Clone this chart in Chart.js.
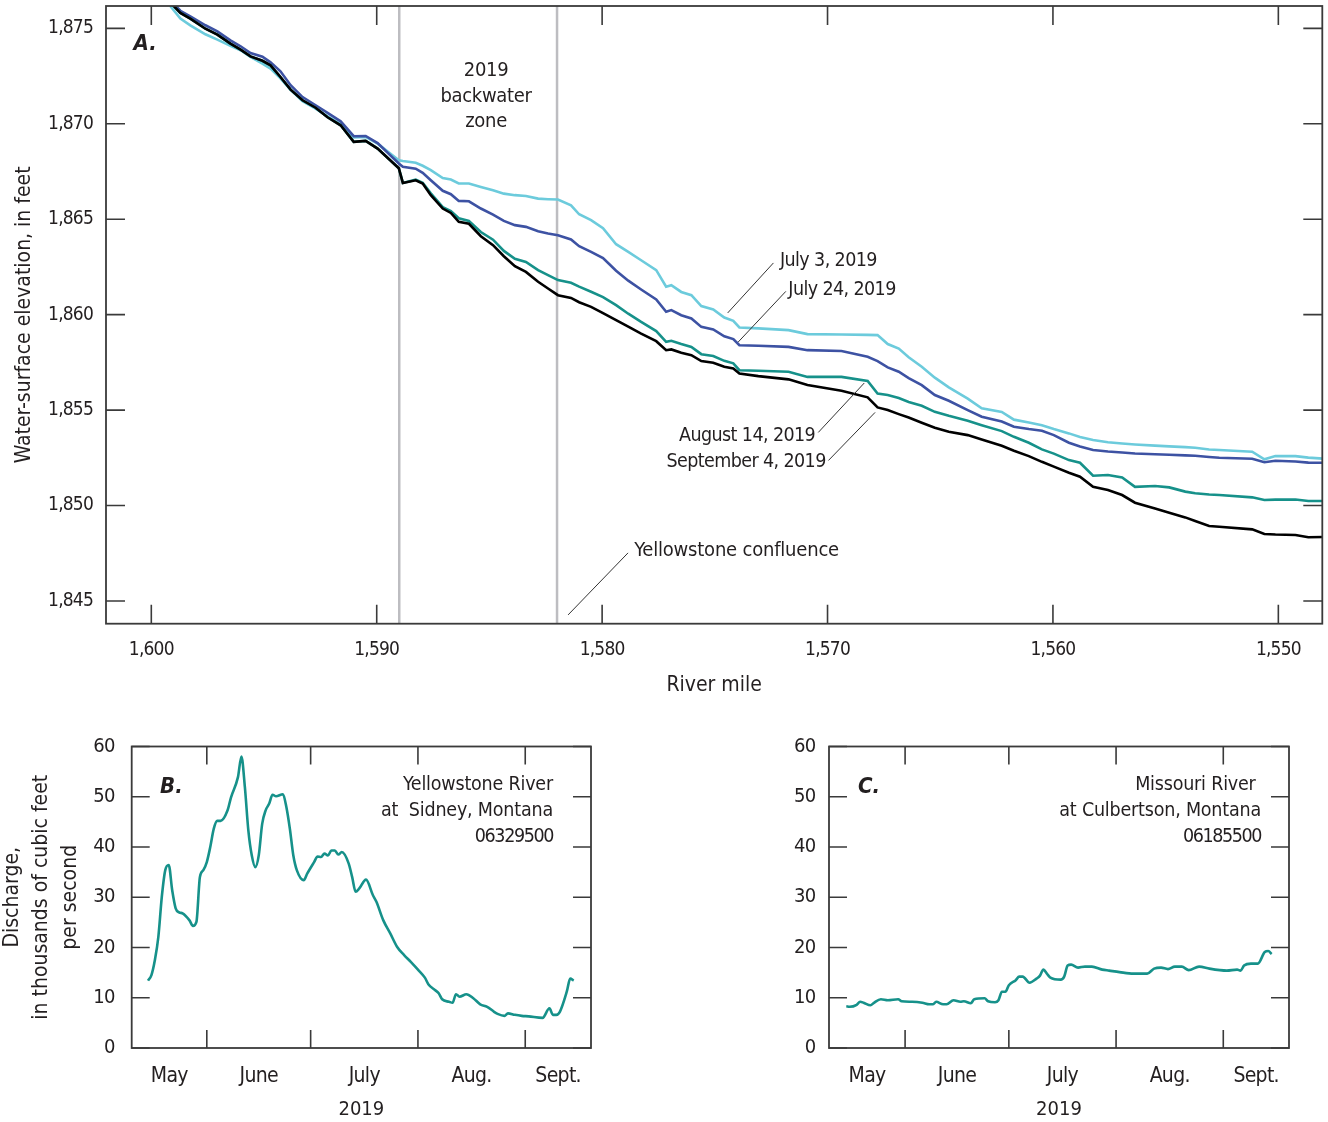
<!DOCTYPE html>
<html lang="en">
<head>
<meta charset="UTF-8">
<title>Missouri River water-surface profiles and discharge, 2019</title>
<script src="https://cdn.jsdelivr.net/npm/chart.js@4"></script>
<style>
  body { margin: 0; background: #fff; }
  #wrap { position: relative; width: 1328px; height: 1122px; }
  canvas { position: absolute; }
  #panelA { left: 0; top: 0; }
  #panelB { left: 0; top: 720px; }
  #panelC { left: 664px; top: 720px; }
</style>
</head>
<body>
<div id="wrap">
  <canvas id="panelA" width="1328" height="705"></canvas>
  <canvas id="panelB" width="664" height="402"></canvas>
  <canvas id="panelC" width="664" height="402"></canvas>
</div>

<script>
// ---- Panel A: water-surface profiles ----
const riverMile = [1599.16, 1598.71, 1598.27, 1597.6, 1597.07, 1596.49, 1596.04, 1595.6, 1595.07, 1594.71,
  1594.27, 1593.82, 1593.29, 1592.71, 1592.18, 1591.6, 1591.02, 1590.49, 1589.96, 1589.02,
  1588.84, 1588.27, 1587.96, 1587.6, 1587.07, 1586.71, 1586.36, 1585.91, 1585.38, 1584.84,
  1584.36, 1583.87, 1583.38, 1582.84, 1582.4, 1581.96, 1581.38, 1581.02, 1580.49, 1579.96,
  1579.38, 1578.84, 1578.27, 1577.6, 1577.16, 1576.93, 1576.49, 1576.04, 1575.6, 1575.07,
  1574.58, 1574.18, 1573.91, 1573.07, 1571.73, 1570.89, 1569.38, 1568.22, 1567.78, 1567.33,
  1566.84, 1566.4, 1565.82, 1565.24, 1564.62, 1563.78, 1563.16, 1562.27, 1561.73, 1561.07,
  1560.49, 1559.96, 1559.29, 1558.8, 1558.22, 1557.56, 1556.93, 1556.36, 1555.47, 1554.84,
  1554.13, 1553.69, 1553.07, 1552.62, 1551.16, 1550.62, 1550.13, 1549.24, 1548.67, 1547.91];

const elevJul3 = [1876.17, 1875.51, 1875.16, 1874.69, 1874.41, 1874.08, 1873.85, 1873.50, 1873.15, 1872.89,
  1872.38, 1871.78, 1871.18, 1870.79, 1870.39, 1869.97, 1869.28, 1869.31, 1868.96, 1868.09,
  1868.05, 1867.96, 1867.80, 1867.57, 1867.16, 1867.08, 1866.87, 1866.87, 1866.69, 1866.52,
  1866.34, 1866.26, 1866.22, 1866.08, 1866.05, 1866.03, 1865.73, 1865.26, 1864.95, 1864.53,
  1863.69, 1863.29, 1862.85, 1862.33, 1861.46, 1861.54, 1861.19, 1861.02, 1860.45, 1860.27,
  1859.85, 1859.68, 1859.33, 1859.28, 1859.19, 1858.98, 1858.96, 1858.94, 1858.93, 1858.46,
  1858.22, 1857.77, 1857.27, 1856.70, 1856.19, 1855.60, 1855.09, 1854.90, 1854.50, 1854.35,
  1854.21, 1854.01, 1853.78, 1853.59, 1853.43, 1853.32, 1853.25, 1853.20, 1853.14, 1853.10,
  1853.06, 1853.03, 1852.94, 1852.91, 1852.82, 1852.42, 1852.59, 1852.59, 1852.51, 1852.45];

const elevJul24 = [1876.47, 1875.92, 1875.63, 1875.16, 1874.84, 1874.37, 1874.06, 1873.71, 1873.51, 1873.22,
  1872.75, 1872.02, 1871.40, 1870.97, 1870.57, 1870.13, 1869.35, 1869.36, 1868.99, 1867.92,
  1867.75, 1867.65, 1867.43, 1867.04, 1866.49, 1866.31, 1865.96, 1865.94, 1865.56, 1865.24,
  1864.91, 1864.69, 1864.60, 1864.37, 1864.25, 1864.16, 1863.94, 1863.59, 1863.29, 1862.96,
  1862.30, 1861.78, 1861.32, 1860.80, 1860.15, 1860.24, 1859.97, 1859.80, 1859.36, 1859.23,
  1858.87, 1858.72, 1858.40, 1858.37, 1858.31, 1858.14, 1858.10, 1857.79, 1857.57, 1857.24,
  1857.01, 1856.68, 1856.31, 1855.79, 1855.49, 1855.00, 1854.65, 1854.40, 1854.13, 1854.01,
  1853.92, 1853.69, 1853.29, 1853.09, 1852.91, 1852.83, 1852.78, 1852.73, 1852.69, 1852.66,
  1852.63, 1852.61, 1852.54, 1852.50, 1852.45, 1852.27, 1852.35, 1852.31, 1852.25, 1852.24];

const elevAug14 = [1876.36, 1875.81, 1875.51, 1874.98, 1874.67, 1874.20, 1873.88, 1873.53, 1873.30, 1873.06,
  1872.45, 1871.79, 1871.23, 1870.84, 1870.34, 1869.92, 1869.05, 1869.10, 1868.70, 1867.67,
  1866.90, 1867.07, 1866.91, 1866.36, 1865.63, 1865.42, 1865.05, 1864.91, 1864.33, 1863.93,
  1863.34, 1862.93, 1862.76, 1862.33, 1862.07, 1861.81, 1861.67, 1861.47, 1861.20, 1860.92,
  1860.50, 1860.05, 1859.62, 1859.14, 1858.58, 1858.63, 1858.46, 1858.31, 1857.93, 1857.83,
  1857.58, 1857.45, 1857.09, 1857.06, 1857.01, 1856.74, 1856.74, 1856.53, 1855.87, 1855.79,
  1855.63, 1855.43, 1855.23, 1854.91, 1854.70, 1854.44, 1854.21, 1853.90, 1853.60, 1853.29,
  1852.94, 1852.72, 1852.38, 1852.24, 1851.56, 1851.60, 1851.47, 1850.98, 1851.02, 1850.95,
  1850.73, 1850.64, 1850.58, 1850.55, 1850.43, 1850.29, 1850.31, 1850.32, 1850.24, 1850.24];

const elevSep4 = [1876.36, 1875.81, 1875.51, 1874.98, 1874.67, 1874.20, 1873.88, 1873.53, 1873.30, 1873.06,
  1872.45, 1871.79, 1871.23, 1870.84, 1870.34, 1869.92, 1869.05, 1869.10, 1868.70, 1867.67,
  1866.90, 1867.04, 1866.87, 1866.26, 1865.56, 1865.33, 1864.86, 1864.76, 1864.11, 1863.64,
  1863.06, 1862.54, 1862.24, 1861.72, 1861.37, 1861.02, 1860.88, 1860.65, 1860.41, 1860.08,
  1859.71, 1859.37, 1859.01, 1858.61, 1858.14, 1858.18, 1858.00, 1857.88, 1857.57, 1857.48,
  1857.27, 1857.18, 1856.92, 1856.78, 1856.61, 1856.31, 1856.01, 1855.67, 1855.14, 1855.00,
  1854.79, 1854.61, 1854.34, 1854.08, 1853.87, 1853.69, 1853.46, 1853.13, 1852.87, 1852.59,
  1852.29, 1852.04, 1851.72, 1851.51, 1850.98, 1850.81, 1850.55, 1850.15, 1849.85, 1849.62,
  1849.38, 1849.19, 1848.93, 1848.89, 1848.75, 1848.51, 1848.48, 1848.46, 1848.34, 1848.35];

const mileTicks = [1600, 1590, 1580, 1570, 1560, 1550];
const elevTicks = [1845, 1850, 1855, 1860, 1865, 1870, 1875];
const backwaterMiles = [1589.0, 1582.0];

// ---- Panels B and C: daily discharge, thousands of cubic feet per second ----
const sidneyDates = ['2019-05-15', '2019-05-16', '2019-05-17', '2019-05-18', '2019-05-19', '2019-05-20', '2019-05-21',
  '2019-05-22', '2019-05-23', '2019-05-24', '2019-05-25', '2019-05-27', '2019-05-28', '2019-05-29', '2019-05-30',
  '2019-05-31', '2019-06-01', '2019-06-02', '2019-06-03', '2019-06-04', '2019-06-05', '2019-06-07', '2019-06-08',
  '2019-06-10', '2019-06-11', '2019-06-12', '2019-06-13', '2019-06-14', '2019-06-15', '2019-06-16', '2019-06-17',
  '2019-06-18', '2019-06-19', '2019-06-20', '2019-06-21', '2019-06-23', '2019-06-24', '2019-06-25', '2019-06-26',
  '2019-06-27', '2019-06-29', '2019-06-30', '2019-07-02', '2019-07-03', '2019-07-04', '2019-07-05', '2019-07-06',
  '2019-07-07', '2019-07-08', '2019-07-09', '2019-07-10', '2019-07-12', '2019-07-13', '2019-07-14', '2019-07-15',
  '2019-07-17', '2019-07-19', '2019-07-20', '2019-07-22', '2019-07-24', '2019-07-26', '2019-07-28', '2019-07-30',
  '2019-08-01', '2019-08-03', '2019-08-04', '2019-08-06', '2019-08-07', '2019-08-08', '2019-08-10', '2019-08-11',
  '2019-08-12', '2019-08-13', '2019-08-15', '2019-08-17', '2019-08-19', '2019-08-21', '2019-08-23', '2019-08-24',
  '2019-08-26', '2019-08-27', '2019-08-29', '2019-08-31', '2019-09-02', '2019-09-06', '2019-09-08', '2019-09-09',
  '2019-09-10', '2019-09-11', '2019-09-13', '2019-09-14', '2019-09-15'];
const sidneyFlow = [13.4, 14.5, 17.5, 22.1, 30.1, 35.4, 36.4,
  31.4, 27.8, 27.0, 26.8, 25.4, 24.3, 25.1, 34.0,
  35.4, 37.0, 40.0, 43.6, 45.2, 45.2, 47.3, 49.9,
  53.9, 58.0, 51.9, 43.3, 38.3, 36.0, 38.3, 44.6,
  47.3, 48.6, 50.4, 50.1, 50.5, 47.9, 43.6, 38.3,
  35.4, 33.4, 34.7, 37.0, 38.1, 38.0, 38.7, 38.3,
  39.3, 39.3, 38.5, 39.0, 36.7, 34.0, 31.1, 31.7,
  33.5, 30.4, 29.1, 25.4, 22.8, 20.1, 18.5, 17.1,
  15.6, 14.0, 12.7, 11.5, 10.9, 9.7, 9.2, 9.0,
  10.7, 10.2, 10.7, 9.9, 8.7, 8.2, 7.2, 6.8,
  6.4, 6.9, 6.6, 6.4, 6.3, 6.0, 7.9, 6.6,
  6.6, 7.2, 11.2, 13.8, 13.4];

const culbertsonDates = ['2019-05-15', '2019-05-16', '2019-05-18', '2019-05-19', '2019-05-20', '2019-05-22', '2019-05-23',
  '2019-05-25', '2019-05-27', '2019-05-30', '2019-05-31', '2019-06-03', '2019-06-06', '2019-06-08', '2019-06-09',
  '2019-06-10', '2019-06-12', '2019-06-13', '2019-06-15', '2019-06-17', '2019-06-18', '2019-06-20', '2019-06-21',
  '2019-06-24', '2019-06-25', '2019-06-27', '2019-06-28', '2019-06-29', '2019-06-30', '2019-07-01', '2019-07-03',
  '2019-07-04', '2019-07-05', '2019-07-07', '2019-07-09', '2019-07-10', '2019-07-11', '2019-07-12', '2019-07-13',
  '2019-07-16', '2019-07-17', '2019-07-18', '2019-07-19', '2019-07-21', '2019-07-23', '2019-07-25', '2019-07-28',
  '2019-07-30', '2019-08-02', '2019-08-06', '2019-08-10', '2019-08-12', '2019-08-14', '2019-08-16', '2019-08-18',
  '2019-08-20', '2019-08-22', '2019-08-25', '2019-08-28', '2019-08-31', '2019-09-02', '2019-09-05', '2019-09-06',
  '2019-09-07', '2019-09-09', '2019-09-11', '2019-09-13', '2019-09-14', '2019-09-15'];
const culbertsonFlow = [8.3, 8.2, 8.6, 9.2, 9.0, 8.5, 9.0,
  9.7, 9.5, 9.7, 9.3, 9.2, 9.0, 8.7, 8.7,
  9.2, 8.7, 8.7, 9.5, 9.2, 9.3, 8.9, 9.7,
  9.9, 9.3, 9.1, 9.5, 11.2, 11.2, 12.5, 13.5,
  14.2, 14.2, 13.0, 13.8, 14.4, 15.6, 14.8, 14.0,
  13.6, 14.2, 16.4, 16.6, 16.0, 16.2, 16.2, 15.6,
  15.4, 15.1, 14.8, 14.8, 15.8, 16.0, 15.7, 16.2,
  16.2, 15.5, 16.2, 15.8, 15.5, 15.4, 15.6, 15.4,
  16.4, 16.8, 16.8, 19.1, 19.3, 18.7];

const monthStarts = ['2019-06-01', '2019-07-01', '2019-08-01', '2019-09-01'];
const monthLabels = ['May', 'June', 'July', 'Aug.', 'Sept.'];
const flowTicks = [0, 10, 20, 30, 40, 50, 60];

// ---- helpers ----
const FONT = "'Liberation Sans Narrow', 'Arial Narrow', 'DejaVu Sans Condensed', sans-serif";
const INK = '#231f20';
Chart.defaults.font.family = FONT;
Chart.defaults.color = INK;

function doy(s) {
  const [y, m, d] = s.split('-').map(Number);
  return (Date.UTC(y, m - 1, d) - Date.UTC(y, 0, 1)) / 864e5 + 1;
}

// frame round the plot area, with ticks pointing inward on all four sides
const framePlugin = {
  id: 'frame',
  afterDatasetsDraw(chart, args, o) {
    const { ctx, chartArea: a, scales: { x, y } } = chart;
    const len = o.tickLength;
    ctx.save();
    ctx.strokeStyle = '#3a3a3a';
    ctx.lineWidth = 1.6;
    ctx.beginPath();
    o.xTicks.forEach(v => {
      const px = x.getPixelForValue(v);
      ctx.moveTo(px, a.bottom); ctx.lineTo(px, a.bottom - len);
      ctx.moveTo(px, a.top); ctx.lineTo(px, a.top + len);
    });
    o.yTicks.forEach(v => {
      const py = y.getPixelForValue(v);
      ctx.moveTo(a.left, py); ctx.lineTo(a.left + len, py);
      ctx.moveTo(a.right, py); ctx.lineTo(a.right - len, py);
    });
    ctx.stroke();
    ctx.lineWidth = 1.8;
    ctx.strokeRect(a.left, a.top, a.right - a.left, a.bottom - a.top);
    ctx.restore();
  }
};

// reference lines, leader lines and text placed in data units
const notesPlugin = {
  id: 'notes',
  beforeDatasetsDraw(chart, args, o) {
    const { ctx, chartArea: a, scales: { x } } = chart;
    ctx.save();
    ctx.strokeStyle = '#bdbdc1';
    ctx.lineWidth = 2.5;
    (o.vlines || []).forEach(v => {
      const px = x.getPixelForValue(v);
      ctx.beginPath(); ctx.moveTo(px, a.top); ctx.lineTo(px, a.bottom); ctx.stroke();
    });
    ctx.restore();
  },
  afterDatasetsDraw(chart, args, o) {
    const { ctx, scales: { x, y } } = chart;
    ctx.save();
    ctx.strokeStyle = '#333';
    ctx.lineWidth = 1;
    (o.leaders || []).forEach(([x1, y1, x2, y2]) => {
      ctx.beginPath();
      ctx.moveTo(x.getPixelForValue(x1), y.getPixelForValue(y1));
      ctx.lineTo(x.getPixelForValue(x2), y.getPixelForValue(y2));
      ctx.stroke();
    });
    ctx.fillStyle = INK;
    ctx.textBaseline = 'middle';
    (o.texts || []).forEach(t => {
      ctx.font = t.font || ('20px ' + FONT);
      ctx.letterSpacing = t.spacing || '0px';
      ctx.textAlign = t.align || 'left';
      const px = x.getPixelForValue(t.x);
      const py = y.getPixelForValue(t.y);
      t.lines.forEach((s, i) => ctx.fillText(s, px, py + i * (t.lineHeight || 25.5)));
    });
    ctx.restore();
  }
};

// tick labels sit on layer z=1 (drawn after the datasets); tighten their
// letter spacing so the digits look closer to a condensed face
const condensePlugin = {
  id: 'condense',
  afterDatasetsDraw(chart, args, o) { chart.ctx.letterSpacing = o.spacing || '0px'; },
  afterDraw(chart) { chart.ctx.letterSpacing = '0px'; }
};

function profile(label, elev, color) {
  return {
    label,
    data: riverMile.map((m, i) => ({ x: m, y: elev[i] })),
    borderColor: color,
    borderWidth: 2.6,
    pointRadius: 0,
    tension: 0,
    fill: false
  };
}

// ---- Panel A ----
new Chart(document.getElementById('panelA'), {
  type: 'line',
  data: {
    datasets: [
      profile('September 4, 2019', elevSep4, '#000000'),
      profile('August 14, 2019', elevAug14, '#16918a'),
      profile('July 24, 2019', elevJul24, '#3d52a3'),
      profile('July 3, 2019', elevJul3, '#6ccbdc')
    ]
  },
  options: {
    responsive: false,
    animation: false,
    devicePixelRatio: 1,
    layout: { padding: { top: 6, right: 5.7, left: 0, bottom: 0 } },
    plugins: {
      legend: { display: false },
      tooltip: { enabled: false },
      frame: { xTicks: mileTicks, yTicks: elevTicks, tickLength: 19 },
      condense: { spacing: '-0.8px' },
      notes: {
        vlines: backwaterMiles,
        leaders: [
          [1572.40, 1862.71, 1574.43, 1860.09],
          [1571.85, 1861.22, 1573.96, 1858.57],
          [1570.41, 1853.83, 1568.37, 1856.42],
          [1569.96, 1852.36, 1567.89, 1854.88],
          [1578.85, 1847.52, 1581.51, 1844.27]
        ],
        texts: [
          { x: 1600.79, y: 1874.16, lines: ['A.'], font: 'italic bold 22px ' + FONT },
          { x: 1585.15, y: 1872.79, lines: ['2019', 'backwater', 'zone'], align: 'center', lineHeight: 25.8, spacing: '-0.3px' },
          { x: 1572.11, y: 1862.80, lines: ['July 3, 2019'], font: '19.5px ' + FONT, spacing: '-0.6px' },
          { x: 1571.74, y: 1861.31, lines: ['July 24, 2019'], font: '19.5px ' + FONT, spacing: '-0.6px' },
          { x: 1570.55, y: 1853.66, lines: ['August 14, 2019'], font: '19.5px ' + FONT, spacing: '-0.6px', align: 'right' },
          { x: 1570.08, y: 1852.26, lines: ['September 4, 2019'], font: '19.5px ' + FONT, spacing: '-0.6px', align: 'right' },
          { x: 1578.58, y: 1847.63, lines: ['Yellowstone confluence'], spacing: '-0.2px' }
        ]
      }
    },
    scales: {
      x: {
        type: 'linear',
        reverse: true,
        min: 1548.05,
        max: 1602.01,
        afterBuildTicks: s => { s.ticks = mileTicks.map(v => ({ value: v })); },
        afterFit: s => { s.height = 81.3; s.paddingLeft = 0; s.paddingRight = 0; },
        grid: { display: false, drawTicks: false },
        border: { display: false },
        ticks: { z: 1, padding: 15, autoSkip: false, maxRotation: 0, font: { size: 19 },
          callback: v => v.toLocaleString('en-US') },
        title: { display: true, text: 'River mile', font: { size: 21 }, padding: { top: 0, bottom: 7 } }
      },
      y: {
        type: 'linear',
        min: 1843.81,
        max: 1876.17,
        afterBuildTicks: s => { s.ticks = elevTicks.map(v => ({ value: v })); },
        afterFit: s => { s.width = 106; s.paddingTop = 0; s.paddingBottom = 0; },
        grid: { display: false, drawTicks: false },
        border: { display: false },
        ticks: { z: 1, padding: 13, autoSkip: false, font: { size: 19 },
          callback: v => v.toLocaleString('en-US') },
        title: { display: true, text: 'Water-surface elevation, in feet', font: { size: 21 }, padding: { top: 12, bottom: 0 } }
      }
    }
  },
  plugins: [framePlugin, notesPlugin, condensePlugin]
});

// ---- Panels B and C ----
function dischargeChart(id, dates, flow, p) {
  const bounds = [p.min, ...monthStarts.map(doy), p.max];
  const labelPos = monthLabels.map((m, i) => (bounds[i] + bounds[i + 1]) / 2);
  return new Chart(document.getElementById(id), {
    type: 'line',
    data: {
      datasets: [{
        label: p.station[0],
        data: dates.map((d, i) => ({ x: doy(d), y: flow[i] })),
        borderColor: '#16918a',
        borderWidth: 2.6,
        pointRadius: 0,
        cubicInterpolationMode: 'monotone',
        fill: false
      }]
    },
    options: {
      responsive: false,
      animation: false,
      devicePixelRatio: 1,
      layout: { padding: { top: 26.5, right: p.right, left: 0, bottom: 0 } },
      plugins: {
        legend: { display: false },
        tooltip: { enabled: false },
        frame: { xTicks: monthStarts.map(doy), yTicks: flowTicks, tickLength: 18 },
        condense: { spacing: '-0.7px' },
        notes: {
          texts: [
            { x: p.letterX, y: 51.9, lines: [p.letter], font: 'italic bold 22px ' + FONT },
            { x: p.stationX, y: 52.26, lines: p.station, align: 'right', lineHeight: 25.5, font: '19.5px ' + FONT, spacing: '-0.2px' },
            { x: p.stationX, y: 42.1, lines: [p.stationId], align: 'right', font: '19.5px ' + FONT, spacing: '-1.4px' }
          ]
        }
      },
      scales: {
        x: {
          type: 'linear',
          min: p.min,
          max: p.max,
          afterBuildTicks: s => { s.ticks = labelPos.map(v => ({ value: v })); },
          afterFit: s => { s.height = 74; s.paddingLeft = 0; s.paddingRight = 0; },
          grid: { display: false, drawTicks: false },
          border: { display: false },
          ticks: { z: 1, padding: 16, autoSkip: false, maxRotation: 0, font: { size: 21 },
            callback: (v, i) => monthLabels[i] },
          title: { display: true, text: '2019', font: { size: 20 }, padding: { top: 0, bottom: 0 } }
        },
        y: {
          type: 'linear',
          min: 0,
          max: 60,
          afterBuildTicks: s => { s.ticks = flowTicks.map(v => ({ value: v })); },
          afterFit: s => { s.width = p.left; s.paddingTop = 0; s.paddingBottom = 0; },
          grid: { display: false, drawTicks: false },
          border: { display: false },
          ticks: { z: 1, padding: p.labelPad, autoSkip: false, font: { size: 20 } },
          title: {
            display: !!p.yTitle,
            text: p.yTitle || '',
            font: { size: 21, lineHeight: '29px' },
            padding: { top: -2, bottom: 0 }
          }
        }
      }
    },
    plugins: [framePlugin, notesPlugin, condensePlugin]
  });
}

dischargeChart('panelB', sidneyDates, sidneyFlow, {
  min: 130.3, max: 263, left: 131.7, right: 73, labelPad: 17,
  letter: 'B.', letterX: 138.5,
  station: ['Yellowstone River', 'at  Sidney, Montana'], stationId: '06329500', stationX: 252.0,
  yTitle: ['Discharge,', 'in thousands of cubic feet', 'per second']
});

dischargeChart('panelC', culbertsonDates, culbertsonFlow, {
  min: 130.0, max: 263, left: 165, right: 39, labelPad: 13.5,
  letter: 'C.', letterX: 138.4,
  station: ['Missouri River ', 'at Culbertson, Montana'], stationId: '06185500', stationX: 254.9
});
</script>
</body>
</html>
